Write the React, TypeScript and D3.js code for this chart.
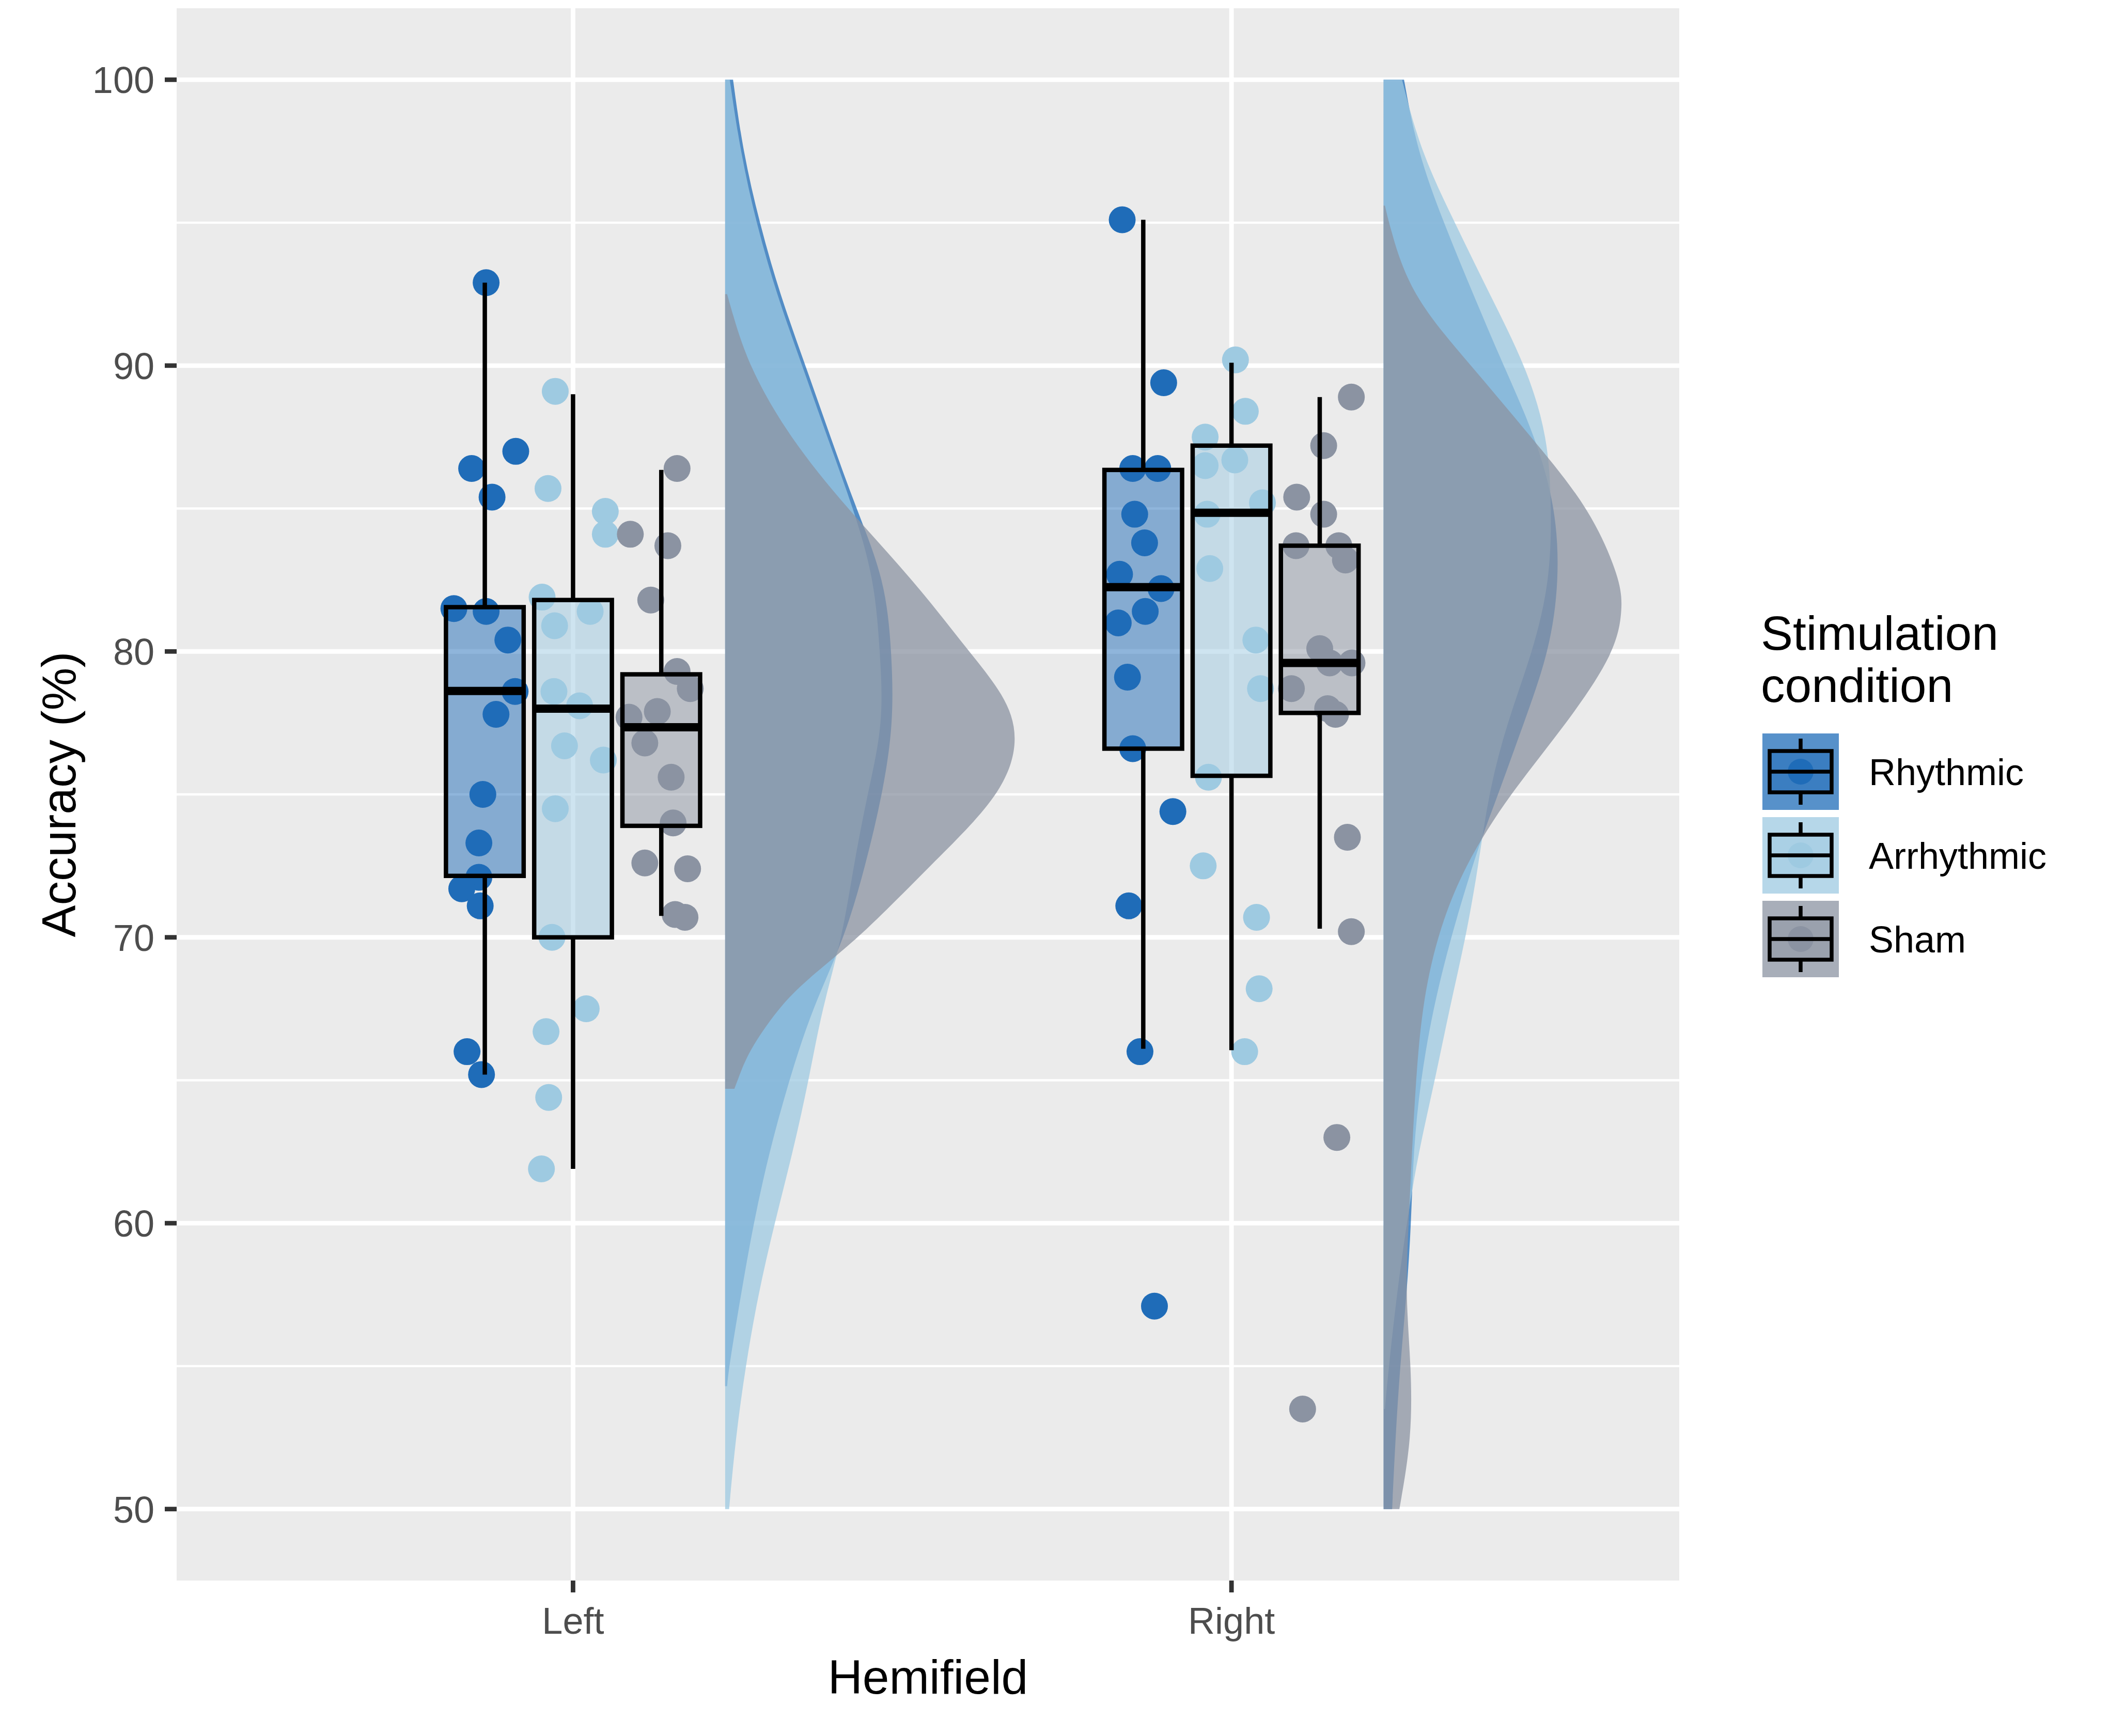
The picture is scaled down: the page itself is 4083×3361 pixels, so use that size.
import { useEffect } from 'react';
import * as d3 from 'd3';

const hemifields = ['Left', 'Right'];
const conditions = ['Rhythmic', 'Arrhythmic', 'Sham'];
const conditionColors = ['#1f6cb8', '#9ecae1', '#8b93a2'];
const yTicks = [50, 60, 70, 80, 90, 100];
const yMinorTicks = [55, 65, 75, 85, 95];

// participants: [accuracy, horizontal jitter in category units]
const leftRhythmic = [
  [92.9, 0.002], [86.4, -0.02], [87.0, 0.047], [85.4, 0.011], [81.5, -0.047], [81.4, 0.002],
  [80.4, 0.035], [78.6, 0.046], [77.8, 0.017], [75.0, -0.003], [73.3, -0.009], [72.1, -0.009],
  [71.7, -0.035], [71.1, -0.007], [66.0, -0.027], [65.2, -0.005],
];
const leftArrhythmic = [
  [89.1, -0.027], [85.7, -0.038], [84.9, 0.049], [84.1, 0.049], [81.9, -0.047], [80.9, -0.028],
  [81.4, 0.026], [78.6, -0.029], [78.1, 0.01], [76.7, -0.013], [76.2, 0.046], [74.5, -0.027],
  [70.0, -0.032], [67.5, 0.02], [66.7, -0.041], [64.4, -0.037], [61.9, -0.048],
];
const leftSham = [
  [86.4, 0.024], [84.1, -0.047], [83.7, 0.01], [81.8, -0.016], [79.3, 0.024], [78.7, 0.044],
  [77.7, -0.049], [77.9, -0.006], [76.8, -0.025], [75.6, 0.015], [74.0, 0.018], [72.6, -0.025],
  [72.4, 0.04], [70.8, 0.021], [70.7, 0.036],
];
const rightRhythmic = [
  [95.1, -0.032], [89.4, 0.031], [86.4, -0.016], [86.4, 0.022], [84.8, -0.013], [83.8, 0.002],
  [82.7, -0.036], [82.2, 0.027], [81.4, 0.003], [81.0, -0.038], [79.1, -0.024], [76.6, -0.016],
  [74.4, 0.045], [71.1, -0.022], [66.0, -0.005], [57.1, 0.017],
];
const rightArrhythmic = [
  [90.2, 0.006], [88.4, 0.021], [87.5, -0.04], [86.5, -0.04], [86.7, 0.005], [85.2, 0.047],
  [84.8, -0.037], [82.9, -0.033], [80.4, 0.037], [78.7, 0.044], [75.6, -0.035], [72.5, -0.043],
  [70.7, 0.038], [68.2, 0.042], [66.0, 0.02],
];
const rightSham = [
  [88.9, 0.048], [87.2, 0.006], [85.4, -0.035], [84.8, 0.006], [83.7, -0.036], [83.7, 0.029],
  [83.2, 0.039], [80.1, 0], [79.6, 0.015], [79.6, 0.049], [78.7, -0.043], [78.0, 0.012],
  [77.8, 0.024], [73.5, 0.042], [70.2, 0.048], [63.0, 0.026], [53.5, -0.026],
];

// [lower whisker, Q1, median, Q3, upper whisker]
const leftBoxes = [
  [65.2, 72.15, 78.62, 81.55, 92.9],
  [61.9, 70.0, 78.0, 81.8, 89.0],
  [70.75, 73.9, 77.35, 79.2, 86.35],
];
const rightBoxes = [
  [66.1, 76.6, 82.25, 86.35, 95.1],
  [66.05, 75.65, 84.85, 87.2, 90.1],
  [70.3, 77.85, 79.6, 83.7, 88.9],
];

// half-violin outlines: [accuracy, width in category units]
const leftRhythmicDensity = [
  [100, 0.012], [97.5, 0.027], [95, 0.052], [92.5, 0.083], [90, 0.122], [87.5, 0.16], [85, 0.199],
  [82.5, 0.243], [80, 0.253], [77.5, 0.256], [75, 0.239], [72.5, 0.213], [70, 0.182], [67.5, 0.132],
  [65, 0.097], [62.5, 0.067], [60, 0.043], [57.5, 0.024], [55, 0.006], [54.3, 0.003],
];
const leftArrhythmicDensity = [
  [100, 0.007], [97.5, 0.023], [95, 0.047], [92.5, 0.078], [90, 0.117], [87.5, 0.155], [85, 0.195],
  [82.5, 0.227], [80, 0.235], [77.5, 0.241], [75, 0.216], [72.5, 0.195], [70, 0.178], [67.5, 0.147],
  [65, 0.127], [62.5, 0.103], [60, 0.075], [57.5, 0.05], [55, 0.031], [52.5, 0.016], [50, 0.006],
];
const leftShamDensity = [
  [92.5, 0.003], [92, 0.009], [90, 0.035], [87.5, 0.097], [85, 0.185], [82.5, 0.286], [80, 0.37],
  [78.5, 0.424], [77, 0.448], [75, 0.422], [72.5, 0.311], [70, 0.205], [68.5, 0.122], [67.5, 0.08],
  [66, 0.035], [65, 0.019], [64.7, 0.014],
];
const rightRhythmicDensity = [
  [100, 0.031], [97.5, 0.051], [95, 0.091], [92.5, 0.136], [90, 0.182], [87.5, 0.231], [85, 0.262],
  [82.5, 0.267], [80, 0.252], [77.5, 0.213], [75, 0.174], [73.6, 0.151], [72.5, 0.135], [70, 0.102],
  [67.5, 0.075], [65, 0.056], [62.5, 0.045], [60, 0.042], [57.5, 0.035], [55, 0.025], [52.5, 0.018],
  [50, 0.013],
];
const rightArrhythmicDensity = [
  [100, 0.028], [97.5, 0.056], [95, 0.108], [92.5, 0.161], [90, 0.216], [87.5, 0.25], [85, 0.255],
  [82.5, 0.253], [80, 0.227], [77.5, 0.187], [75, 0.159], [72.5, 0.144], [70, 0.125], [67.5, 0.1],
  [65, 0.078], [62.5, 0.053], [60, 0.035], [57.5, 0.02], [55, 0.008], [53.5, 0.002],
];
const rightShamDensity = [
  [95.6, 0.002], [95, 0.008], [92.5, 0.039], [90, 0.133], [87.5, 0.224], [85, 0.314], [82.5, 0.36],
  [81.5, 0.363], [80, 0.353], [77.5, 0.279], [75, 0.191], [72.5, 0.122], [70, 0.08], [67.5, 0.058],
  [65, 0.049], [62.5, 0.043], [60, 0.038], [57.5, 0.033], [55, 0.042], [52.5, 0.043], [50, 0.024],
];

const W = 4083;
const H = 3361;
const panel = { left: 342, right: 3251, top: 16, bottom: 3060 };
const dodge = 0.134;
const boxWidth = 0.118;
const cloudOffset = 0.231;
const font = '"Liberation Sans", Arial, sans-serif';

export default function App() {
  useEffect(() => {
    document.body.style.margin = '0';
  }, []);

  const x = d3.scaleLinear().domain([0.398, 2.68]).range([panel.left, panel.right]);
  const y = d3.scaleLinear().domain([47.5, 102.5]).range([panel.bottom, panel.top]);

  const points = [
    [leftRhythmic, leftArrhythmic, leftSham],
    [rightRhythmic, rightArrhythmic, rightSham],
  ];
  const boxes = [leftBoxes, rightBoxes];
  const clouds = [
    [leftRhythmicDensity, leftArrhythmicDensity, leftShamDensity],
    [rightRhythmicDensity, rightArrhythmicDensity, rightShamDensity],
  ];

  const cloudPath = (base: number, d: number[][]) =>
    d3
      .area<number[]>()
      .y((p) => y(p[0]))
      .x0(x(base))
      .x1((p) => x(base + p[1]))
      .curve(d3.curveBasis)(d) ?? '';

  const legendY = (i: number) => 1494 + i * 162;

  return (
    <svg width={W} height={H} viewBox={`0 0 ${W} ${H}`} style={{ display: 'block', background: '#fff' }}>
      <rect x={panel.left} y={panel.top} width={panel.right - panel.left} height={panel.bottom - panel.top} fill="#ebebeb" />

      {yMinorTicks.map((t) => (
        <line key={`m${t}`} x1={panel.left} x2={panel.right} y1={y(t)} y2={y(t)} stroke="#fff" strokeWidth={4.4} />
      ))}
      {yTicks.map((t) => (
        <line key={`g${t}`} x1={panel.left} x2={panel.right} y1={y(t)} y2={y(t)} stroke="#fff" strokeWidth={8.8} />
      ))}
      {hemifields.map((h, i) => (
        <line key={h} x1={x(i + 1)} x2={x(i + 1)} y1={panel.top} y2={panel.bottom} stroke="#fff" strokeWidth={8.8} />
      ))}

      {/* rain clouds */}
      {clouds.map((group, hi) =>
        group.map((d, ci) => (
          <path key={`c${hi}-${ci}`} d={cloudPath(hi + 1 + cloudOffset, d)} fill={conditionColors[ci]} fillOpacity={0.75} />
        )),
      )}

      {/* jittered participants */}
      {points.map((group, hi) =>
        group.map((pts, ci) =>
          pts.map(([v, j], k) => (
            <circle
              key={`p${hi}-${ci}-${k}`}
              cx={x(hi + 1 + (ci - 1) * dodge + j)}
              cy={y(v)}
              r={26}
              fill={conditionColors[ci]}
            />
          )),
        ),
      )}

      {/* boxplots */}
      {boxes.map((group, hi) =>
        group.map(([lo, q1, med, q3, hiW], ci) => {
          const cx = x(hi + 1 + (ci - 1) * dodge);
          const x0 = x(hi + 1 + (ci - 1) * dodge - boxWidth / 2);
          const x1 = x(hi + 1 + (ci - 1) * dodge + boxWidth / 2);
          return (
            <g key={`b${hi}-${ci}`}>
              <line x1={cx} x2={cx} y1={y(hiW)} y2={y(q3)} stroke="#000" strokeWidth={8.5} />
              <line x1={cx} x2={cx} y1={y(q1)} y2={y(lo)} stroke="#000" strokeWidth={8.5} />
              <rect
                x={x0}
                y={y(q3)}
                width={x1 - x0}
                height={y(q1) - y(q3)}
                fill={conditionColors[ci]}
                fillOpacity={0.5}
                stroke="#000"
                strokeWidth={8.5}
              />
              <line x1={x0} x2={x1} y1={y(med)} y2={y(med)} stroke="#000" strokeWidth={16} />
            </g>
          );
        }),
      )}

      {/* axes */}
      {yTicks.map((t) => (
        <g key={`yt${t}`}>
          <line x1={panel.left - 23} x2={panel.left} y1={y(t)} y2={y(t)} stroke="#333" strokeWidth={8.8} />
          <text x={299} y={y(t)} dy="0.36em" textAnchor="end" fontSize={72} fill="#4d4d4d" fontFamily={font}>
            {t}
          </text>
        </g>
      ))}
      {hemifields.map((h, i) => (
        <g key={`xt${h}`}>
          <line x1={x(i + 1)} x2={x(i + 1)} y1={panel.bottom} y2={panel.bottom + 23} stroke="#333" strokeWidth={8.8} />
          <text x={x(i + 1)} y={3163} textAnchor="middle" fontSize={72} fill="#4d4d4d" fontFamily={font}>
            {h}
          </text>
        </g>
      ))}
      <text x={(panel.left + panel.right) / 2} y={3279} textAnchor="middle" fontSize={93} fontFamily={font}>
        Hemifield
      </text>
      <text
        transform={`translate(146,${(panel.top + panel.bottom) / 2}) rotate(-90)`}
        textAnchor="middle"
        fontSize={93}
        fontFamily={font}
      >
        Accuracy (%)
      </text>

      {/* legend */}
      <text x={3409} y={1258} fontSize={93} fontFamily={font}>
        Stimulation
      </text>
      <text x={3409} y={1359} fontSize={93} fontFamily={font}>
        condition
      </text>
      {conditions.map((c, i) => {
        const cy = legendY(i);
        const cx = 3486;
        return (
          <g key={c}>
            <rect x={cx - 74} y={cy - 74} width={148} height={148} fill={conditionColors[i]} fillOpacity={0.75} />
            <circle cx={cx} cy={cy} r={25} fill={conditionColors[i]} />
            <line x1={cx} x2={cx} y1={cy - 64} y2={cy - 40} stroke="#000" strokeWidth={7.5} />
            <line x1={cx} x2={cx} y1={cy + 40} y2={cy + 64} stroke="#000" strokeWidth={7.5} />
            <rect
              x={cx - 60}
              y={cy - 40}
              width={120}
              height={80}
              fill={conditionColors[i]}
              fillOpacity={0.5}
              stroke="#000"
              strokeWidth={7.5}
            />
            <line x1={cx - 60} x2={cx + 60} y1={cy} y2={cy} stroke="#000" strokeWidth={7.5} />
            <text x={3618} y={cy} dy="0.36em" fontSize={72} fontFamily={font}>
              {c}
            </text>
          </g>
        );
      })}
    </svg>
  );
}
